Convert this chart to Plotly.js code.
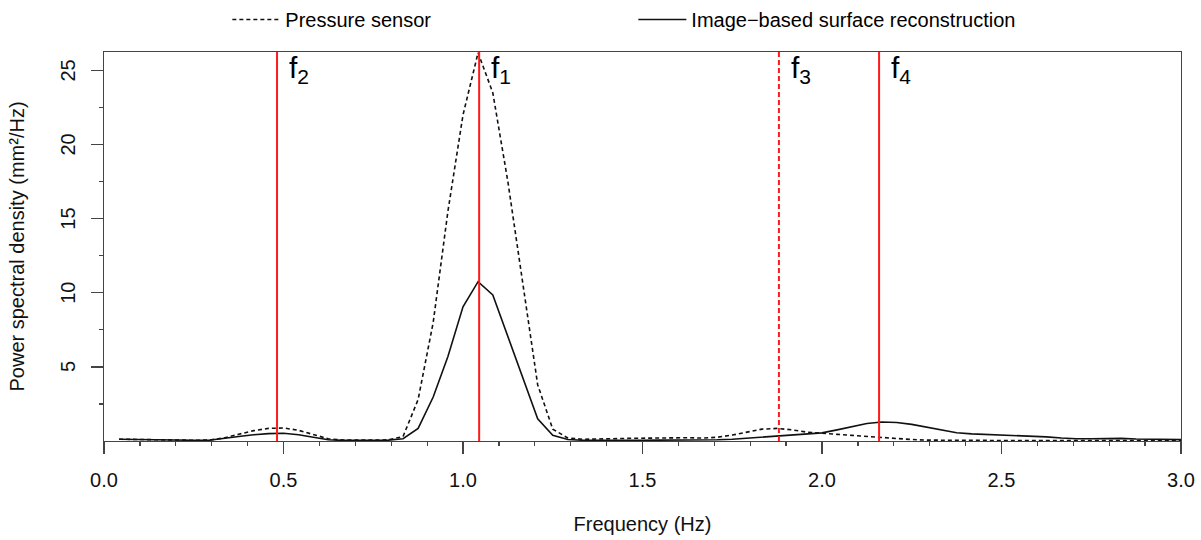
<!DOCTYPE html>
<html>
<head>
<meta charset="utf-8">
<script src="https://cdn.plot.ly/plotly-3.0.1.min.js"></script>
<style>html,body{margin:0;padding:0;background:#fff;}#chart{width:1201px;height:540px;}</style>
</head>
<body>
<div id="chart"></div>
<script>
// Frequency grid (Hz)
const freq = [0.042,0.083,0.125,0.167,0.208,0.25,0.292,0.333,0.375,0.417,0.458,0.5,
  0.542,0.583,0.625,0.667,0.708,0.75,0.792,0.833,0.875,0.917,0.958,1.0,
  1.042,1.083,1.125,1.167,1.208,1.25,1.292,1.333,1.375,1.417,1.458,1.5,
  1.542,1.583,1.625,1.667,1.708,1.75,1.792,1.833,1.875,1.917,1.958,2.0,
  2.042,2.083,2.125,2.167,2.208,2.25,2.292,2.333,2.375,2.417,2.458,2.5,
  2.542,2.583,2.625,2.667,2.708,2.75,2.792,2.833,2.875,2.917,2.958,3.0];

// Pressure sensor PSD (mm²/Hz)
const pressure = [0.12,0.1,0.08,0.06,0.05,0.05,0.06,0.2,0.45,0.7,0.85,0.88,
  0.72,0.42,0.15,0.06,0.05,0.06,0.08,0.3,2.8,8.0,15.5,22.0,
  26.2,23.5,17.5,10.5,3.8,0.8,0.2,0.12,0.12,0.15,0.18,0.2,
  0.2,0.2,0.22,0.2,0.25,0.4,0.62,0.8,0.85,0.75,0.6,0.5,
  0.45,0.38,0.3,0.22,0.15,0.1,0.06,0.05,0.03,0.03,0.03,0.03,
  0.03,0.03,0.03,0.03,0.03,0.03,0.03,0.03,0.03,0.03,0.03,0.03];

// Image-based surface reconstruction PSD (mm²/Hz)
const imageBased = [0.12,0.1,0.08,0.06,0.05,0.05,0.05,0.15,0.3,0.42,0.5,0.52,
  0.42,0.25,0.08,0.04,0.04,0.05,0.06,0.15,0.85,2.97,5.7,9.05,
  10.75,9.85,7.0,4.2,1.5,0.38,0.1,0.05,0.04,0.04,0.05,0.05,
  0.06,0.06,0.06,0.07,0.08,0.12,0.2,0.28,0.34,0.4,0.48,0.55,
  0.75,0.98,1.18,1.28,1.25,1.12,0.92,0.72,0.56,0.48,0.45,0.42,
  0.38,0.34,0.28,0.2,0.15,0.15,0.18,0.18,0.14,0.12,0.1,0.09];

// Marked frequencies
const markLabels = ["f<sub>1</sub>","f<sub>2</sub>","f<sub>3</sub>","f<sub>4</sub>"];
const markFreqs = [1.045, 0.482, 1.88, 2.159];
const markDash = ["solid","solid","dash","solid"];

// Axis ticks
const xTickVals = [0,0.5,1,1.5,2,2.5,3];
const xTickText = ["0.0","0.5","1.0","1.5","2.0","2.5","3.0"];
const yTickVals = [5,10,15,20,25];
const yTickText = ["5","10","15","20","25"];
const yMinorVals = [2.5,7.5,12.5,17.5,22.5];
const xMinorVals = [0.1,0.2,0.3,0.4,0.6,0.7,0.8,0.9,1.1,1.2,1.3,1.4,1.6,1.7,1.8,1.9,2.1,2.2,2.3,2.4,2.6,2.7,2.8,2.9];

const FONT = "Liberation Sans, Arial, Helvetica, sans-serif";

const traces = [
  {x: freq, y: pressure, type: "scatter", mode: "lines", name: "Pressure sensor",
   line: {color: "#111", width: 1.6, dash: "4px,3px"}},
  {x: freq, y: imageBased, type: "scatter", mode: "lines", name: "Image\u2212based surface reconstruction",
   line: {color: "#111", width: 1.6}}
];

const shapes = markFreqs.map((f, i) => ({
  type: "line", xref: "x", yref: "paper", x0: f, x1: f, y0: 0, y1: 1,
  line: {color: "#ff1a1a", width: 2, dash: markDash[i] === "dash" ? "5px,3px" : "solid"}
}));

const annotations = markFreqs.map((f, i) => ({
  x: f, xref: "x", y: 1, yref: "paper", text: markLabels[i], showarrow: false,
  xanchor: "left", yanchor: "top", xshift: 10, yshift: 3,
  font: {family: FONT, size: 30, color: "#000"}
})).concat(yTickVals.map((v, i) => ({
  x: 0, xref: "paper", y: v, yref: "y", text: yTickText[i], showarrow: false,
  textangle: -90, xanchor: "center", yanchor: "middle", xshift: -36,
  font: {family: FONT, size: 20, color: "#111"}
})));

const layout = {
  width: 1201, height: 540,
  margin: {l: 104, r: 20, t: 52, b: 99},
  paper_bgcolor: "#fff", plot_bgcolor: "#fff",
  font: {family: FONT, size: 20, color: "#000"},
  showlegend: true,
  legend: {orientation: "h", xref: "container", yref: "container", x: 0.1893, y: 1.0,
    xanchor: "left", yanchor: "top", entrywidth: 343, entrywidthmode: "pixels",
    itemwidth: 48,
    font: {family: FONT, size: 20, color: "#000"}, bgcolor: "rgba(0,0,0,0)"},
  xaxis: {
    range: [0, 3], showgrid: false, zeroline: false,
    showline: true, linecolor: "#444", linewidth: 1.3, mirror: true,
    ticks: "outside", ticklen: 12, tickwidth: 1.3, tickcolor: "#444",
    tickmode: "array", tickvals: xTickVals, ticktext: xTickText,
    ticklabelstandoff: 9,
    tickfont: {family: FONT, size: 20, color: "#111"},
    minor: {tickmode: "array", tickvals: xMinorVals, ticks: "outside", ticklen: 4, tickwidth: 1.2, tickcolor: "#444", showgrid: false},
    title: {text: "Frequency (Hz)", font: {family: FONT, size: 20, color: "#111"}, standoff: 26}
  },
  yaxis: {
    range: [0, 26.25], showgrid: false, zeroline: false,
    showline: true, linecolor: "#444", linewidth: 1.3, mirror: true,
    ticks: "outside", ticklen: 12, tickwidth: 1.3, tickcolor: "#444",
    tickmode: "array", tickvals: yTickVals, showticklabels: false,
    minor: {tickmode: "array", tickvals: yMinorVals, ticks: "outside", ticklen: 4, tickwidth: 1.2, tickcolor: "#444", showgrid: false},
    title: {text: "Power spectral density (mm²/Hz)", font: {family: FONT, size: 20, color: "#111"}, standoff: 60}
  },
  shapes: shapes,
  annotations: annotations
};

Plotly.newPlot("chart", traces, layout, {displayModeBar: false, staticPlot: true});
</script>
</body>
</html>
